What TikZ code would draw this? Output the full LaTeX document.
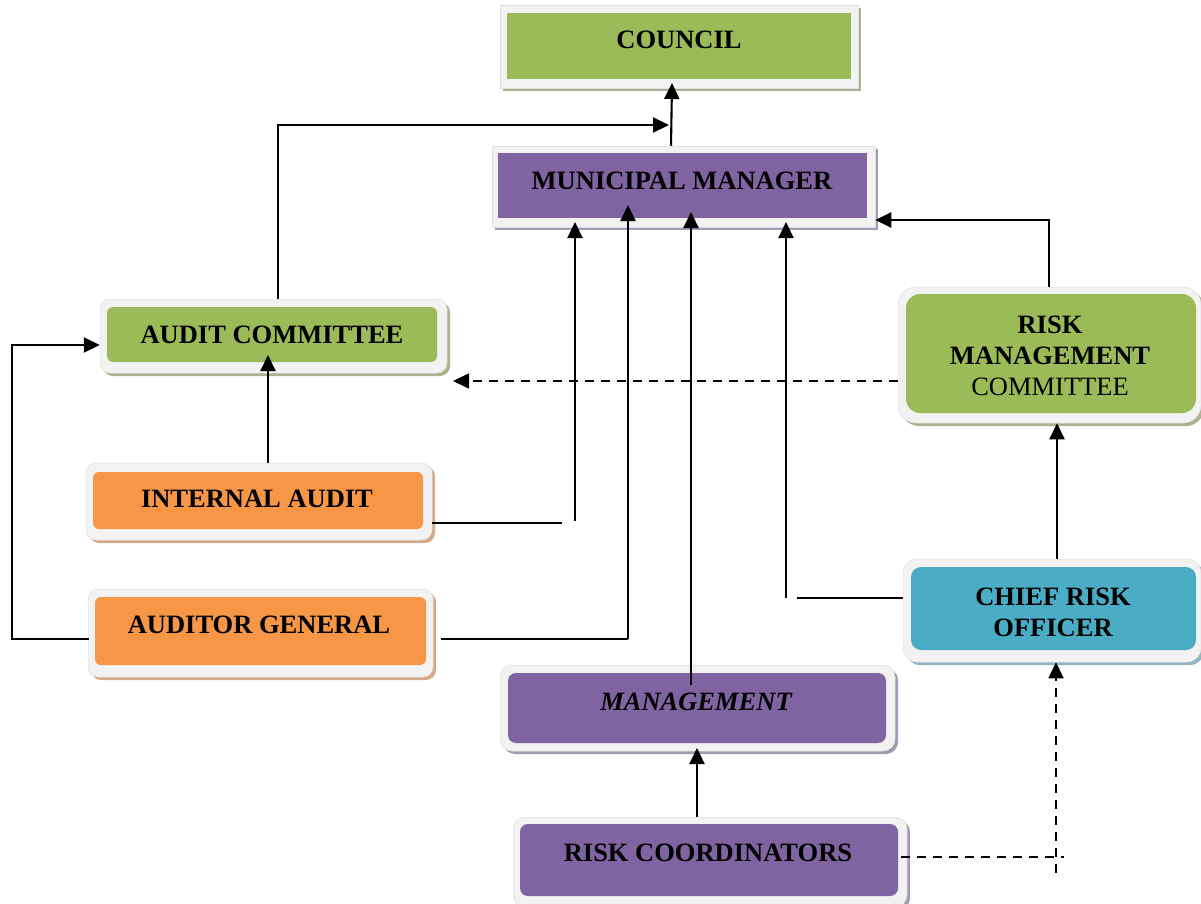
\documentclass[tikz,border=0pt]{standalone}
\usepackage{fontspec}
\setmainfont{Liberation Serif}
\usetikzlibrary{arrows.meta,shadows}
\definecolor{gr}{HTML}{9BBB59}
\definecolor{pu}{HTML}{8064A2}
\definecolor{or}{HTML}{F79646}
\definecolor{bl}{HTML}{4BACC6}
\definecolor{fr}{HTML}{F2F2F2}
\definecolor{shg}{HTML}{A9B38F}
\definecolor{shp}{HTML}{A29AB3}
\definecolor{sho}{HTML}{D6A98A}
\definecolor{shb}{HTML}{92B4BF}
\begin{document}
\begin{tikzpicture}[x=1pt,y=-1pt,
  frame/.style={rectangle, fill=fr, draw=black!12, line width=0.5pt, inner sep=0pt},
  inbox/.style={rectangle, inner sep=0pt},
  lbl/.style={font=\fontsize{26.5}{31}\selectfont\bfseries, align=center, text=black, inner sep=0pt},
  sh/.style={general shadow={fill=#1, shadow xshift=3pt, shadow yshift=-3pt}},
  ln/.style={line width=2.1pt},
  arr/.style={line width=2.1pt, -{Triangle[length=16pt,width=15pt]}},
  dsh/.style={line width=1.8pt, dash pattern=on 9pt off 7pt},
  darr/.style={dsh, -{Triangle[length=16pt,width=15pt]}}]
\useasboundingbox (0,0) rectangle (1201,904);
\fill[white] (0,0) rectangle (1201,904);

% COUNCIL
\node[frame, sh=shg, minimum width=358pt, minimum height=83pt] (coo) at (679,46.5) {};
\node[inbox, fill=gr, minimum width=344pt, minimum height=66pt] (co) at (679,46) {};
\node[lbl] (cot) at (679,40) {COUNCIL};

% MUNICIPAL MANAGER
\node[frame, sh=shp, minimum width=383pt, minimum height=81pt] (mmo) at (683.5,186.5) {};
\node[inbox, fill=pu, minimum width=369pt, minimum height=65pt] (mm) at (682.5,185.5) {};
\node[lbl] (mmt) at (682,181) {MUNICIPAL MANAGER};

% AUDIT COMMITTEE
\node[frame, sh=shg, rounded corners=10pt, minimum width=347pt, minimum height=74pt] (aco) at (273.5,336) {};
\node[inbox, fill=gr, rounded corners=6pt, minimum width=330pt, minimum height=55pt] (ac) at (272,334.5) {};
\node[lbl] (act) at (272,335) {AUDIT COMMITTEE};

% INTERNAL AUDIT
\node[frame, sh=sho, rounded corners=10pt, minimum width=346pt, minimum height=77pt] (iao) at (259,501.5) {};
\node[inbox, fill=or, rounded corners=6pt, minimum width=330pt, minimum height=57pt] (ia) at (258,500.5) {};
\node[lbl] (iat) at (257,499) {INTERNAL AUDIT};

% AUDITOR GENERAL
\node[frame, sh=sho, rounded corners=10pt, minimum width=345pt, minimum height=88pt] (ago) at (260.5,633) {};
\node[inbox, fill=or, rounded corners=6pt, minimum width=331pt, minimum height=68pt] (ag) at (260.5,631) {};
\node[lbl] (agt) at (259,625) {AUDITOR GENERAL};

% RISK MANAGEMENT COMMITTEE
\node[frame, sh=shg, rounded corners=18pt, minimum width=303pt, minimum height=136pt] (rmo) at (1049.5,355) {};
\node[inbox, fill=gr, rounded corners=14pt, minimum width=290pt, minimum height=119pt] (rm) at (1051,353.5) {};
\node[lbl] (rmt) at (1050,356) {RISK\\MANAGEMENT\\{\mdseries COMMITTEE}};

% CHIEF RISK OFFICER
\node[frame, sh=shb, rounded corners=14pt, minimum width=298pt, minimum height=103pt] (cro) at (1052,610.5) {};
\node[inbox, fill=bl, rounded corners=10pt, minimum width=285pt, minimum height=83pt] (cr) at (1053.5,608.5) {};
\node[lbl] (crt) at (1053,612) {CHIEF RISK\\OFFICER};

% MANAGEMENT
\node[frame, sh=shp, rounded corners=12pt, minimum width=395pt, minimum height=86pt] (mgo) at (697.5,708) {};
\node[inbox, fill=pu, rounded corners=8pt, minimum width=378pt, minimum height=70pt] (mg) at (697,708) {};
\node[lbl, font=\fontsize{26.5}{31}\selectfont\bfseries\itshape] (mgt) at (696,702) {MANAGEMENT};

% RISK COORDINATORS
\node[frame, sh=shp, rounded corners=12pt, minimum width=394pt, minimum height=90pt] (rco) at (710,862) {};
\node[inbox, fill=pu, rounded corners=8pt, minimum width=378pt, minimum height=72pt] (rc) at (709,860) {};
\node[lbl] (rct) at (708,853) {RISK COORDINATORS};

% junction / end coordinates
\coordinate (jc) at (669,125);
\coordinate (t1) at (575,222);
\coordinate (t2) at (628,205);
\coordinate (t3) at (691,212);
\coordinate (t4) at (786,222);
\coordinate (g1) at (562,523);
\coordinate (g2) at (797,598);
\coordinate (ag1) at (12,639);
\coordinate (ag2) at (628,639);
\coordinate (rm1) at (1049,220);
\coordinate (dj) at (1064,857);

% connectors
\draw[arr] (671,0 |- mmo.north) -- (672,83);
\draw[arr] (278,0 |- aco.north) |- (jc);
\draw[arr] (1049,0 |- rmo.north) -- (rm1) -- (mmo.east |- rm1);
\draw[arr] (iao.north -| 268,0) -- (268,355);
\draw[ln] (432,523) -- (g1);
\draw[arr] (575,521) -- (t1);
\draw[ln] (441,639) -- (ag2);
\draw[arr] (ag2) -- (t2);
\draw[arr] (89,639) -- (ag1) |- (aco.west |- 0,345);
\draw[arr] (691,685) -- (t3);
\draw[arr] (697,0 |- rco.north) -- (697,748);
\draw[arr] (1057,0 |- cro.north) -- (1057,0 |- rmo.south);
\draw[ln] (cro.west |- g2) -- (g2);
\draw[arr] (786,598) -- (t4);
\draw[darr] (rmo.west |- 0,381) -- (453,381);
\draw[dsh] (901,857) -- (dj);
\draw[darr] (1056,873) -- (1056,0 |- cro.south);
\end{tikzpicture}
\end{document}
